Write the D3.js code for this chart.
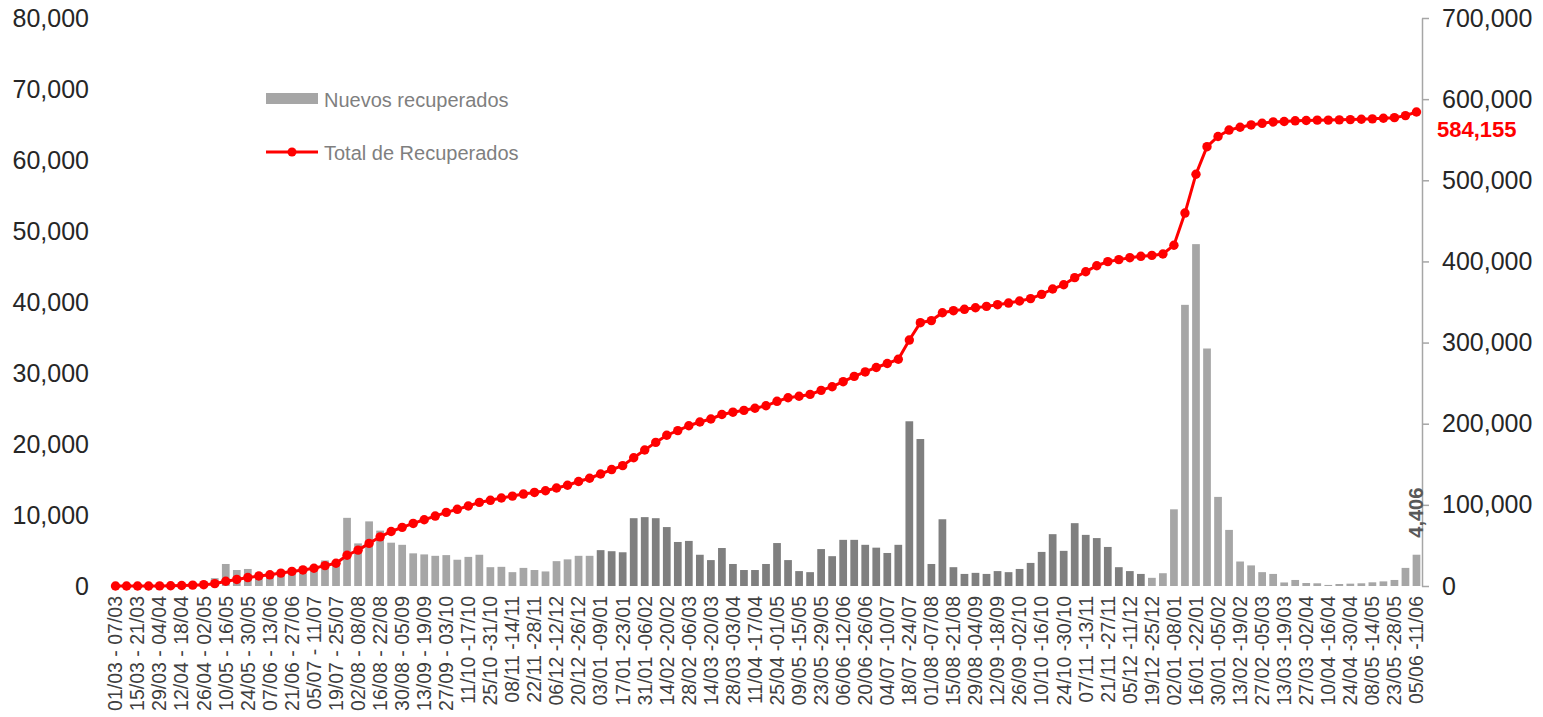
<!DOCTYPE html>
<html lang="es">
<head>
  <meta charset="UTF-8">
  <title>Recuperados</title>
  <script src="https://cdn.jsdelivr.net/npm/d3@7"></script>
  <style>
    body { margin: 0; background: #fff; }
    text { font-family: "Liberation Sans", Arial, sans-serif; }
  </style>
</head>
<body>
  <div id="grafica"></div>

  <script>
    // semanas (una etiqueta cada dos semanas)
    semanas = d3.range(119)
    etiquetas = [
      '01/03 - 07/03', '15/03 - 21/03', '29/03 - 04/04', '12/04 - 18/04', '26/04 - 02/05',
      '10/05 - 16/05', '24/05 - 30/05', '07/06 - 13/06', '21/06 - 27/06', '05/07 - 11/07',
      '19/07 - 25/07', '02/08 - 08/08', '16/08 - 22/08', '30/08 - 05/09', '13/09 - 19/09',
      '27/09 - 03/10', '11/10 -17/10', '25/10 -31/10', '08/11 -14/11', '22/11 -28/11',
      '06/12 -12/12', '20/12 -26/12', '03/01 -09/01', '17/01 -23/01', '31/01 -06/02',
      '14/02 -20/02', '28/02 -06/03', '14/03 -20/03', '28/03 -03/04', '11/04 -17/04',
      '25/04 -01/05', '09/05 -15/05', '23/05 -29/05', '06/06 -12/06', '20/06 -26/06',
      '04/07 -10/07', '18/07 -24/07', '01/08 -07/08', '15/08 -21/08', '29/08 -04/09',
      '12/09 -18/09', '26/09 -02/10', '10/10 -16/10', '24/10 -30/10', '07/11 -13/11',
      '21/11 -27/11', '05/12 -11/12', '19/12 -25/12', '02/01 -08/01', '16/01 -22/01',
      '30/01 -05/02', '13/02 -19/02', '27/02 -05/03', '13/03 -19/03', '27/03 -02/04',
      '10/04 -16/04', '24/04 -30/04', '08/05 -14/05', '23/05 -28/05', '05/06 -11/06'
    ]

    nuevos = [
      0, 0, 10, 30, 80, 150, 300, 450, 600, 1100,
      3100, 2250, 2400, 1900, 1600, 2100, 2000, 1800, 2200, 3600,
      3100, 9600, 6000, 9100, 7800, 6100, 5800, 4600, 4450, 4250,
      4350, 3700, 4100, 4400, 2650, 2700, 1950, 2550, 2250, 2050,
      3500, 3750, 4250, 4250, 5050, 4900, 4750, 9550, 9700, 9550,
      8300, 6200, 6350, 4400, 3650, 5350, 3100, 2250, 2250, 3100,
      6050, 3650, 2100, 1950, 5200, 4200, 6500, 6500, 5800, 5400,
      4650, 5800, 23200, 20700, 3100, 9400, 2650, 1700, 1850, 1700,
      2100, 1950, 2400, 3250, 4800, 7300, 4950, 8850, 7200, 6750,
      5500, 2650, 2100, 1700, 1150, 1800, 10800, 39600, 48150, 33450,
      12550, 7900, 3450, 2900, 1950, 1700, 500, 850, 420, 380,
      150, 280, 330, 380, 520, 650, 850, 2550, 4406
    ]

    total = [
      0, 0, 10, 40, 120, 270, 570, 1020, 1620, 2900,
      5800, 8100, 10400, 12300, 13800, 15900, 18000, 19800, 21900, 25100,
      28000, 37900, 44200, 52500, 60600, 67200, 72300, 77100, 81700, 86200,
      90700, 94500, 98600, 103000, 105600, 108400, 110800, 113300, 115300, 117400,
      120800, 124200, 128800, 132800, 138000, 143500, 148300, 158000, 167600, 177000,
      185800, 191500, 197500, 202100, 205800, 211300, 214200, 216500, 219000, 222100,
      227600, 232000, 233900, 236100, 241100, 245600, 251800, 258300, 263800, 269300,
      274200, 279400, 303100, 324500, 327100, 336800, 339300, 341000, 342900, 344600,
      346700, 348700, 351200, 354200, 359400, 366000, 371300, 380000, 387300, 394700,
      399700, 402200, 404600, 406300, 407400, 409200, 420000, 459600, 507500, 541400,
      554000, 561900, 565300, 568200, 570200, 571900, 572400, 573300, 573700, 574100,
      574200, 574500, 574800, 575200, 575700, 576400, 577200, 579700, 584155
    ]

    // 2021 en gris oscuro
    anioOscuro = [44, 93]

    ancho = 1543
    alto = 717

    svg = d3.select('#grafica')
      .append('svg')
      .attr('width', ancho)
      .attr('height', alto)

    x = d3.scaleBand()
      .domain(semanas)
      .range([110, 1422])
      .paddingInner(0.3)
      .paddingOuter(0.15)

    y = d3.scaleLinear()
      .domain([0, 80000])
      .range([586, 18])

    y2 = d3.scaleLinear()
      .domain([0, 700000])
      .range([586, 18])

    // eje izquierdo
    ejeY = svg.append('g')
      .attr('transform', 'translate(110,0)')
      .call(d3.axisLeft(y).ticks(8).tickFormat(d3.format(',')).tickSize(0).tickPadding(21))
    ejeY.select('.domain').remove()
    ejeY.selectAll('text').attr('font-size', 25).attr('fill', '#262626')

    // eje derecho
    ejeY2 = svg.append('g')
      .attr('transform', 'translate(1422,0)')
      .call(d3.axisRight(y2).ticks(7).tickFormat(d3.format(',')).tickSize(7).tickSizeOuter(0).tickPadding(13))
    ejeY2.select('.domain').attr('stroke', '#a6a6a6').attr('stroke-width', 1.5)
    ejeY2.selectAll('line').attr('stroke', '#a6a6a6').attr('stroke-width', 1.5)
    ejeY2.selectAll('text').attr('font-size', 25).attr('fill', '#262626')

    // barras
    svg.selectAll('rect.barra')
      .data(nuevos)
      .enter()
      .append('rect')
      .attr('class', 'barra')
      .attr('x', (d, i) => x(i))
      .attr('y', d => y(d))
      .attr('width', x.bandwidth())
      .attr('height', d => y(0) - y(d))
      .attr('fill', (d, i) => (i >= anioOscuro[0] && i <= anioOscuro[1]) ? '#7f7f7f' : '#a6a6a6')

    // etiquetas eje x
    svg.selectAll('text.fecha')
      .data(etiquetas)
      .enter()
      .append('text')
      .attr('class', 'fecha')
      .attr('transform', (d, i) => 'translate(' + (x(i * 2) + x.bandwidth() / 2) + ',596) rotate(-90)')
      .attr('dy', '0.35em')
      .attr('text-anchor', 'end')
      .attr('font-size', 19.5)
      .attr('fill', '#404040')
      .text(d => d)

    // linea total
    linea = d3.line()
      .x((d, i) => x(i) + x.bandwidth() / 2)
      .y(d => y2(d))

    svg.append('path')
      .datum(total)
      .attr('d', linea)
      .attr('fill', 'none')
      .attr('stroke', '#ff0000')
      .attr('stroke-width', 3)

    svg.selectAll('circle.punto')
      .data(total)
      .enter()
      .append('circle')
      .attr('class', 'punto')
      .attr('cx', (d, i) => x(i) + x.bandwidth() / 2)
      .attr('cy', d => y2(d))
      .attr('r', 4.7)
      .attr('fill', '#ff0000')

    // anotaciones
    ultimo = total.length - 1
    svg.append('text')
      .attr('x', 1437)
      .attr('y', y2(total[ultimo]) + 25)
      .attr('font-family', 'Open Sans')
      .attr('font-weight', 'bold')
      .attr('font-size', 22)
      .attr('fill', '#ff0000')
      .text(d3.format(',')(total[ultimo]))

    svg.append('text')
      .attr('transform', 'translate(' + (x(ultimo) + x.bandwidth() / 2) + ',' + (y(nuevos[ultimo]) - 17) + ') rotate(-90)')
      .attr('dy', '0.35em')
      .attr('font-weight', 'bold')
      .attr('font-size', 20)
      .attr('fill', '#595959')
      .text(d3.format(',')(nuevos[ultimo]))

    // leyenda
    leyenda = svg.append('g').attr('transform', 'translate(266,0)')
    leyenda.append('rect')
      .attr('x', 0).attr('y', 93).attr('width', 52).attr('height', 11)
      .attr('fill', '#a6a6a6')
    leyenda.append('text')
      .attr('x', 58).attr('y', 107)
      .attr('font-size', 20).attr('fill', '#7f7f7f')
      .text('Nuevos recuperados')
    leyenda.append('line')
      .attr('x1', 0).attr('x2', 52).attr('y1', 152).attr('y2', 152)
      .attr('stroke', '#ff0000').attr('stroke-width', 3)
    leyenda.append('circle')
      .attr('cx', 26).attr('cy', 152).attr('r', 4.5)
      .attr('fill', '#ff0000')
    leyenda.append('text')
      .attr('x', 58).attr('y', 160)
      .attr('font-size', 20).attr('fill', '#7f7f7f')
      .text('Total de Recuperados')
  </script>
</body>
</html>
